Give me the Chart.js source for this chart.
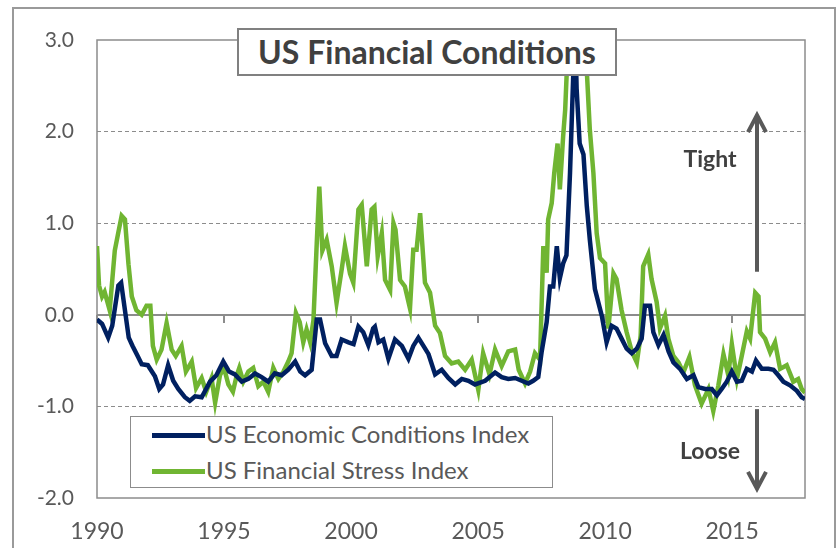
<!DOCTYPE html>
<html>
<head>
<meta charset="utf-8">
<script src="https://cdn.jsdelivr.net/npm/chart.js@4.4.0/dist/chart.umd.min.js"></script>
<style>
  body { margin: 0; background: #fff; }
  #wrap { position: relative; width: 837px; height: 548px; overflow: hidden; font-family: Lato, "Noto Sans", sans-serif; }
  #frame { position: absolute; left: 12px; top: 7px; width: 820px; height: 600px; border: 2px solid #9a9a9a; }
  #myChart { position: absolute; left: 0; top: 0; }
  #title { position: absolute; left: 237px; top: 28px; width: 376px; height: 44px; border: 2px solid #808080; background: #fff;
           font-weight: bold; font-size: 32px; color: #404040; text-align: center; line-height: 44px; }
  #legend { position: absolute; left: 130px; top: 416px; width: 421px; height: 70px; border: 1.5px solid #8c8c8c; background: #fff; }
  .row { position: absolute; left: 21px; height: 30px; font-size: 24px; color: #595959; line-height: 30px; white-space: nowrap; }
  .row span { display: inline-block; width: 53px; height: 5px; vertical-align: middle; margin-right: 1px; position: relative; top: -1px; }
  .note { position: absolute; width: 100px; text-align: center; font-weight: bold; font-size: 23px; color: #404040; }
</style>
</head>
<body>
<div id="wrap">
  <div id="frame"></div>
  <canvas id="myChart" width="837" height="548"></canvas>
  <div id="title">US Financial Conditions</div>
  <div id="legend">
    <div class="row" style="top:2px"><span style="background:#002060"></span>US Economic Conditions Index</div>
    <div class="row" style="top:38px"><span style="background:#70b532"></span>US Financial Stress Index</div>
  </div>
  <div class="note" style="left:660px; top:144px">Tight</div>
  <div class="note" style="left:660px; top:436px">Loose</div>
</div>
<script>
// values (year, index level)
var econ_dates = [1990.0, 1990.2, 1990.44, 1990.6, 1990.84, 1990.95, 1991.1, 1991.25, 1991.4, 1991.6, 1991.76, 1992.0,
    1992.28, 1992.45, 1992.6, 1992.8, 1993.0, 1993.2, 1993.46, 1993.65, 1993.86, 1994.12, 1994.45, 1994.7, 1994.97,
    1995.2, 1995.43, 1995.7, 1995.96, 1996.22, 1996.48, 1996.74, 1997.0, 1997.27, 1997.53, 1997.8, 1998.0, 1998.19,
    1998.45, 1998.65, 1998.78, 1998.98, 1999.24, 1999.43, 1999.63, 1999.9, 2000.1, 2000.29, 2000.48, 2000.68, 2000.87,
    2000.94, 2001.08, 2001.27, 2001.47, 2001.73, 2002.0, 2002.26, 2002.45, 2002.65, 2002.85, 2003.05, 2003.31, 2003.57,
    2003.83, 2004.1, 2004.36, 2004.62, 2004.88, 2005.28, 2005.67, 2005.93, 2006.19, 2006.46, 2006.72, 2006.98, 2007.17,
    2007.37, 2007.5, 2007.7, 2007.83, 2007.96, 2008.1, 2008.22, 2008.35, 2008.48, 2008.62, 2008.75, 2008.82, 2008.88,
    2009.0, 2009.15, 2009.28, 2009.4, 2009.6, 2009.87, 2010.06, 2010.26, 2010.45, 2010.65, 2010.85, 2011.05, 2011.25,
    2011.44, 2011.57, 2011.77, 2011.9, 2012.1, 2012.3, 2012.5, 2012.69, 2012.95, 2013.22, 2013.48, 2013.67, 2013.94,
    2014.2, 2014.4, 2014.59, 2014.79, 2014.99, 2015.19, 2015.38, 2015.58, 2015.78, 2015.94, 2016.17, 2016.43, 2016.63,
    2016.82, 2017.02, 2017.28, 2017.55, 2017.74, 2017.87];
var econ_values = [-0.05, -0.1, -0.25, -0.12, 0.32, 0.35, 0.05, -0.25, -0.34, -0.45, -0.54, -0.55,
    -0.67, -0.81, -0.76, -0.55, -0.72, -0.81, -0.9, -0.94, -0.89, -0.9, -0.73, -0.66, -0.51,
    -0.62, -0.65, -0.73, -0.7, -0.64, -0.68, -0.73, -0.64, -0.66, -0.6, -0.51, -0.62, -0.66,
    -0.6, -0.05, -0.05, -0.31, -0.45, -0.45, -0.27, -0.3, -0.32, -0.13, -0.19, -0.33, -0.15,
    -0.13, -0.3, -0.27, -0.48, -0.27, -0.34, -0.48, -0.34, -0.25, -0.34, -0.43, -0.65, -0.6,
    -0.69, -0.76, -0.7, -0.72, -0.76, -0.72, -0.63, -0.68, -0.7, -0.69, -0.72, -0.75, -0.72,
    -0.68, -0.41, -0.08, 0.31, 0.31, 0.75, 0.4, 0.56, 0.65, 1.55, 2.64, 3.2, 2.47,
    1.87, 1.75, 1.19, 0.82, 0.28, -0.01, -0.3, -0.12, -0.15, -0.26, -0.37, -0.42, -0.37,
    -0.26, 0.1, 0.1, -0.19, -0.33, -0.22, -0.4, -0.52, -0.59, -0.7, -0.66, -0.79, -0.81,
    -0.81, -0.88, -0.81, -0.73, -0.62, -0.73, -0.72, -0.59, -0.62, -0.5, -0.59, -0.59, -0.6,
    -0.66, -0.73, -0.77, -0.83, -0.9, -0.92];

var stress_dates = [1990.0, 1990.08, 1990.2, 1990.3, 1990.5, 1990.7, 1990.84, 1990.97, 1991.1, 1991.24, 1991.37, 1991.55,
    1991.76, 1991.95, 1992.1, 1992.2, 1992.35, 1992.54, 1992.74, 1992.94, 1993.1, 1993.33, 1993.5, 1993.73, 1993.9,
    1994.12, 1994.3, 1994.51, 1994.65, 1994.84, 1995.0, 1995.17, 1995.35, 1995.5, 1995.6, 1995.76, 1995.96, 1996.15,
    1996.35, 1996.55, 1996.74, 1996.94, 1997.14, 1997.34, 1997.53, 1997.66, 1997.83, 1997.98, 1998.12, 1998.25, 1998.39,
    1998.52, 1998.65, 1998.75, 1998.87, 1999.04, 1999.24, 1999.43, 1999.63, 1999.76, 1999.96, 2000.09, 2000.29, 2000.42,
    2000.62, 2000.81, 2000.92, 2001.05, 2001.21, 2001.34, 2001.54, 2001.67, 2001.75, 2001.93, 2002.12, 2002.32, 2002.45,
    2002.58, 2002.72, 2002.91, 2003.11, 2003.31, 2003.5, 2003.7, 2003.96, 2004.22, 2004.49, 2004.75, 2005.01, 2005.2,
    2005.45, 2005.67, 2005.93, 2006.19, 2006.46, 2006.6, 2006.85, 2007.05, 2007.24, 2007.44, 2007.57, 2007.7, 2007.76,
    2007.9, 2008.0, 2008.13, 2008.22, 2008.35, 2008.43, 2008.56, 2008.75, 2009.0, 2009.2, 2009.4, 2009.54, 2009.67,
    2009.8, 2010.0, 2010.13, 2010.33, 2010.45, 2010.65, 2010.85, 2011.05, 2011.25, 2011.4, 2011.5, 2011.7, 2011.83,
    2012.03, 2012.16, 2012.36, 2012.49, 2012.69, 2012.89, 2013.08, 2013.32, 2013.54, 2013.8, 2014.07, 2014.26, 2014.46,
    2014.66, 2014.85, 2014.99, 2015.19, 2015.38, 2015.58, 2015.71, 2015.91, 2016.04, 2016.1, 2016.3, 2016.5, 2016.69,
    2016.89, 2017.15, 2017.41, 2017.6, 2017.74, 2017.87];
var stress_values = [0.75, 0.32, 0.2, 0.25, 0.05, 0.7, 0.9, 1.08, 1.04, 0.55, 0.2, 0.05,
    0.0, 0.1, 0.1, -0.34, -0.49, -0.38, -0.09, -0.38, -0.45, -0.34, -0.62, -0.51, -0.8,
    -0.69, -0.84, -0.69, -0.96, -0.66, -0.58, -0.76, -0.84, -0.66, -0.58, -0.73, -0.62, -0.58,
    -0.78, -0.73, -0.84, -0.58, -0.7, -0.62, -0.51, -0.42, 0.02, -0.08, -0.3, -0.16, -0.3,
    -0.06, 0.78, 1.4, 0.7, 0.82, 0.53, 0.13, 0.49, 0.75, 0.45, 0.35, 1.15, 1.2,
    0.53, 1.15, 1.18, 0.64, 0.89, 0.38, 0.27, 1.0, 0.93, 0.38, 0.31, 0.07, 0.71,
    0.71, 1.11, 0.35, 0.24, -0.12, -0.2, -0.45, -0.53, -0.51, -0.6, -0.49, -0.82, -0.42,
    -0.65, -0.38, -0.56, -0.4, -0.38, -0.6, -0.75, -0.62, -0.42, -0.49, 0.75, 0.46, 1.04,
    1.22, 1.55, 1.87, 1.37, 1.95, 2.24, 3.1, 4.5, 4.0, 3.1, 2.02, 1.55, 0.89,
    0.62, 0.56, -0.15, 0.45, 0.39, 0.05, -0.19, -0.4, -0.52, -0.23, 0.53, 0.66, 0.39,
    0.14, -0.15, -0.01, -0.26, -0.45, -0.52, -0.63, -0.46, -0.77, -0.97, -0.81, -1.05, -0.77,
    -0.43, -0.66, -0.32, -0.7, -0.45, -0.18, -0.26, 0.24, 0.2, -0.19, -0.26, -0.41, -0.3,
    -0.59, -0.55, -0.73, -0.7, -0.81, -0.85];

var year_ticks = [1990, 1995, 2000, 2005, 2010, 2015];

function toPoints(dates, values) {
    return dates.map(function (d, i) { return {x: d, y: values[i]}; });
}

// frame, solid zero line with its tick marks, and the tight/loose arrows
var framePlugin = {
    id: 'frame',
    beforeDatasetsDraw: function (chart) {
        var ctx = chart.ctx, a = chart.chartArea;
        var xs = chart.scales.x, ys = chart.scales.y;
        ctx.save();
        ctx.strokeStyle = '#8c8c8c';
        ctx.lineWidth = 1.5;
        ctx.strokeRect(a.left, a.top, a.right - a.left, a.bottom - a.top);
        var y0 = Math.round(ys.getPixelForValue(0));
        ctx.lineWidth = 2;
        ctx.beginPath();
        ctx.moveTo(a.left, y0);
        ctx.lineTo(a.right, y0);
        for (var t of year_ticks) {
            var px = Math.round(xs.getPixelForValue(t));
            ctx.moveTo(px, y0);
            ctx.lineTo(px, y0 + 8);
        }
        ctx.stroke();
        ctx.restore();
    },
    afterDatasetsDraw: function (chart) {
        var ctx = chart.ctx;
        var xs = chart.scales.x, ys = chart.scales.y;
        var ax = Math.round(xs.getPixelForValue(2016.0));
        function arrow(fromV, toV) {
            var y1 = ys.getPixelForValue(fromV), y2 = ys.getPixelForValue(toV);
            var dir = y2 < y1 ? 1 : -1;
            ctx.beginPath();
            ctx.moveTo(ax, y1);
            ctx.lineTo(ax, y2 + dir * 2);
            ctx.stroke();
            ctx.beginPath();
            ctx.moveTo(ax - 9, y2 + dir * 17);
            ctx.lineTo(ax, y2);
            ctx.lineTo(ax + 9, y2 + dir * 17);
            ctx.stroke();
        }
        ctx.save();
        ctx.strokeStyle = '#595959';
        ctx.lineWidth = 4;
        ctx.lineCap = 'butt';
        ctx.lineJoin = 'miter';
        arrow(0.47, 2.18);
        arrow(-1.03, -1.9);
        ctx.restore();
    }
};

var ctx = document.getElementById('myChart').getContext('2d');
var chart = new Chart(ctx, {
    type: 'line',
    data: {
        datasets: [{
            label: 'US Economic Conditions Index',
            data: toPoints(econ_dates, econ_values),
            borderColor: '#002060',
            borderWidth: 4.5,
            pointRadius: 0,
            tension: 0,
            fill: false
        },
        {
            label: 'US Financial Stress Index',
            data: toPoints(stress_dates, stress_values),
            borderColor: '#70b532',
            borderWidth: 4.5,
            pointRadius: 0,
            tension: 0,
            fill: false
        }]
    },
    options: {
        responsive: false,
        animation: false,
        devicePixelRatio: 1,
        layout: {padding: {top: 40, right: 32, left: 0, bottom: 0}},
        plugins: {legend: {display: false}, tooltip: {enabled: false}},
        scales: {
            x: {
                type: 'linear',
                min: 1990,
                max: 2017.87,
                grid: {display: false},
                border: {display: false},
                afterFit: function (s) { s.height = 50; },
                ticks: {
                    stepSize: 5,
                    includeBounds: false,
                    padding: 12,
                    color: '#595959',
                    font: {family: 'Lato', size: 23},
                    callback: function (v) { return v % 5 === 0 ? String(v) : ''; }
                }
            },
            y: {
                min: -2,
                max: 3,
                afterFit: function (s) { s.width = 97; },
                border: {display: false, dash: [4, 3]},
                grid: {
                    drawTicks: false,
                    lineWidth: 1,
                    color: function (c) {
                        var v = c.tick ? c.tick.value : null;
                        return (v === 0 || v === 3 || v === -2) ? 'rgba(0,0,0,0)' : '#8c8c8c';
                    }
                },
                ticks: {
                    stepSize: 1,
                    padding: 23,
                    color: '#595959',
                    font: {family: 'Lato', size: 21},
                    callback: function (v) { return v.toFixed(1); }
                }
            }
        }
    },
    plugins: [framePlugin]
});
</script>
</body>
</html>
